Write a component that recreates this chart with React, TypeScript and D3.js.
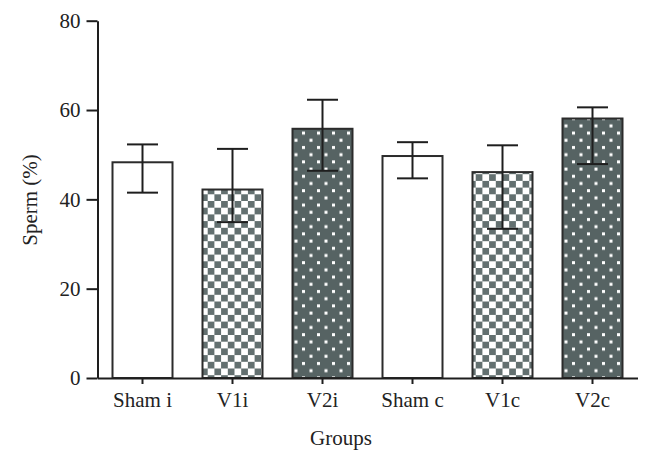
import React, { useEffect, useRef } from "react";
import * as d3 from "d3";

const categories = ["Sham i", "V1i", "V2i", "Sham c", "V1c", "V2c"];
const means = [48.3, 42.2, 55.8, 49.7, 46.1, 58.1];
const errUpper = [52.3, 51.3, 62.3, 52.8, 52.1, 60.6];
const errLower = [41.5, 34.9, 46.4, 44.7, 33.4, 47.9];
const fills = ["white", "checker", "dots", "white", "checker", "dots"];
const yTicks = [0, 20, 40, 60, 80];

const W = 652;
const H = 465;
const FONT = "'Liberation Serif', 'DejaVu Serif', serif";
const FS = 21;

export default function App() {
  const ref = useRef<SVGSVGElement>(null);

  useEffect(() => {
    const svg = d3.select(ref.current);
    svg.selectAll("*").remove();

    const defs = svg.append("defs");
    const grey = "#637070";
    const dark = "#566363";

    const chk = defs
      .append("pattern")
      .attr("id", "checker")
      .attr("patternUnits", "userSpaceOnUse")
      .attr("width", 13.4)
      .attr("height", 13.4);
    chk.append("rect").attr("width", 13.4).attr("height", 13.4).attr("fill", "white");
    chk.append("rect").attr("x", 6.7).attr("y", 0).attr("width", 6.7).attr("height", 6.7).attr("fill", grey);
    chk.append("rect").attr("x", 0).attr("y", 6.7).attr("width", 6.7).attr("height", 6.7).attr("fill", grey);

    const dots = defs
      .append("pattern")
      .attr("id", "dots")
      .attr("patternUnits", "userSpaceOnUse")
      .attr("width", 15)
      .attr("height", 14.4);
    dots.append("rect").attr("width", 15).attr("height", 14.4).attr("fill", dark);
    dots.append("rect").attr("x", 2).attr("y", 2).attr("width", 3).attr("height", 3).attr("fill", "white");
    dots.append("rect").attr("x", 9.5).attr("y", 9.2).attr("width", 3).attr("height", 3).attr("fill", "white");

    const x = d3
      .scaleBand<string>()
      .domain(categories)
      .range([97.5, 637.5])
      .paddingInner(1 / 3)
      .paddingOuter(1 / 6);
    const y = d3.scaleLinear().domain([0, 80]).range([378, 20.7]);

    const g = svg.append("g");

    // bars
    g.selectAll("rect.bar")
      .data(categories)
      .join("rect")
      .attr("class", "bar")
      .attr("x", (d) => x(d)!)
      .attr("y", (_, i) => y(means[i]))
      .attr("width", x.bandwidth())
      .attr("height", (_, i) => y(0) - y(means[i]))
      .attr("fill", (_, i) =>
        fills[i] === "white" ? "white" : `url(#${fills[i]})`
      )
      .attr("stroke", "#2b2b2b")
      .attr("stroke-width", 2);

    // error bars
    const cap = 15.5;
    categories.forEach((c, i) => {
      const cx = x(c)! + x.bandwidth() / 2;
      const eg = g.append("g").attr("stroke", "#1e1e1e").attr("stroke-width", 2);
      eg.append("line").attr("x1", cx).attr("x2", cx).attr("y1", y(errUpper[i])).attr("y2", y(errLower[i]));
      eg.append("line").attr("x1", cx - cap).attr("x2", cx + cap).attr("y1", y(errUpper[i])).attr("y2", y(errUpper[i]));
      eg.append("line").attr("x1", cx - cap).attr("x2", cx + cap).attr("y1", y(errLower[i])).attr("y2", y(errLower[i]));
    });

    // y axis
    const yAxis = g
      .append("g")
      .attr("transform", "translate(97.5,0)")
      .call(d3.axisLeft(y).tickValues(yTicks).tickSize(11).tickPadding(6).tickSizeOuter(0));
    yAxis.select(".domain").attr("stroke", "#1e1e1e").attr("stroke-width", 2);
    yAxis.selectAll(".tick line").attr("stroke", "#1e1e1e").attr("stroke-width", 2);
    yAxis
      .selectAll(".tick text")
      .attr("font-family", FONT)
      .attr("font-size", FS)
      .attr("fill", "#222");

    // x axis
    const xAxis = g
      .append("g")
      .attr("transform", "translate(0,378)")
      .call(d3.axisBottom(x).tickSize(6).tickPadding(8).tickSizeOuter(0));
    xAxis.select(".domain").attr("stroke", "#1e1e1e").attr("stroke-width", 2);
    xAxis.selectAll(".tick line").attr("stroke", "#1e1e1e").attr("stroke-width", 2);
    xAxis
      .selectAll(".tick text")
      .attr("font-family", FONT)
      .attr("font-size", FS)
      .attr("fill", "#222");

    // axis titles
    svg
      .append("text")
      .attr("x", 341)
      .attr("y", 445)
      .attr("text-anchor", "middle")
      .attr("font-family", FONT)
      .attr("font-size", FS)
      .attr("fill", "#222")
      .text("Groups");

    svg
      .append("text")
      .attr("transform", "translate(37,200) rotate(-90)")
      .attr("text-anchor", "middle")
      .attr("font-family", FONT)
      .attr("font-size", FS)
      .attr("fill", "#222")
      .text("Sperm (%)");
  }, []);

  return (
    <svg
      ref={ref}
      width={W}
      height={H}
      style={{ position: "absolute", left: 0, top: 0, background: "white" }}
    />
  );
}
